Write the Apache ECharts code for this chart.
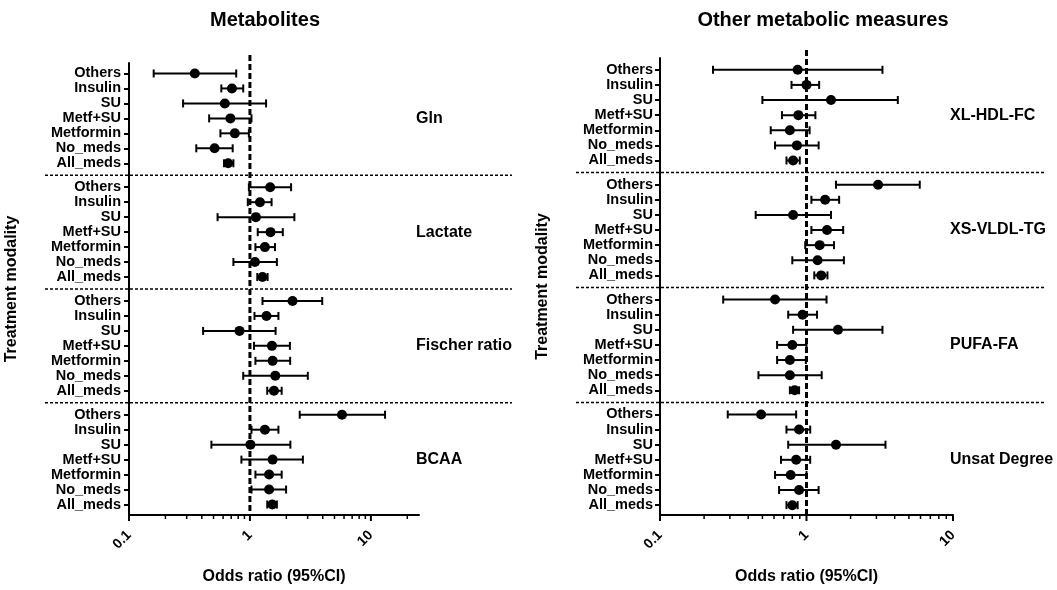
<!DOCTYPE html>
<html>
<head>
<meta charset="utf-8">
<script src="https://cdn.jsdelivr.net/npm/echarts@6/dist/echarts.min.js"></script>
<style>html,body{margin:0;padding:0;background:#fff;}#chart{width:1057px;height:590px;}</style>
</head>
<body>
<div id="chart"></div>
<script>
// ---------- data ----------
const rowLabels = ['Others', 'Insulin', 'SU', 'Metf+SU', 'Metformin', 'No_meds', 'All_meds'];
const leftGroups = ['Gln', 'Lactate', 'Fischer ratio', 'BCAA'];
const rightGroups = ['XL-HDL-FC', 'XS-VLDL-TG', 'PUFA-FA', 'Unsat Degree'];
const panelTitles = ['Metabolites', 'Other metabolic measures'];
const xTickValues = [0.1, 1, 10];
const xTickLabels = ['0.1', '1', '10'];
const minorTickValues = [0.2, 0.3, 0.4, 0.5, 0.6, 0.7, 0.8, 0.9, 2, 3, 4, 5, 6, 7, 8, 9, 20];

const glnOR = [0.35, 0.71, 0.62, 0.69, 0.75, 0.51, 0.66];
const glnLo = [0.16, 0.58, 0.28, 0.46, 0.57, 0.36, 0.61];
const glnHi = [0.77, 0.88, 1.36, 1.03, 0.98, 0.72, 0.73];

const lactateOR = [1.47, 1.21, 1.12, 1.48, 1.33, 1.10, 1.27];
const lactateLo = [0.98, 0.96, 0.54, 1.16, 1.11, 0.73, 1.15];
const lactateHi = [2.19, 1.51, 2.33, 1.87, 1.61, 1.67, 1.40];

const fischerOR = [2.25, 1.37, 0.82, 1.52, 1.54, 1.62, 1.58];
const fischerLo = [1.27, 1.09, 0.41, 1.08, 1.11, 0.88, 1.39];
const fischerHi = [3.96, 1.72, 1.63, 2.14, 2.15, 3.01, 1.83];

const bcaaOR = [5.77, 1.33, 1.01, 1.54, 1.44, 1.44, 1.53];
const bcaaLo = [2.58, 1.03, 0.48, 0.85, 1.11, 1.03, 1.39];
const bcaaHi = [13.1, 1.72, 2.16, 2.74, 1.83, 1.99, 1.67];

const xlhdlOR = [0.87, 1.00, 1.47, 0.88, 0.77, 0.86, 0.81];
const xlhdlLo = [0.23, 0.79, 0.50, 0.68, 0.57, 0.61, 0.73];
const xlhdlHi = [3.30, 1.22, 4.20, 1.15, 1.05, 1.21, 0.90];

const xsvldlOR = [3.08, 1.34, 0.81, 1.38, 1.23, 1.19, 1.26];
const xsvldlLo = [1.59, 1.08, 0.45, 1.08, 0.98, 0.80, 1.13];
const xsvldlHi = [5.93, 1.67, 1.47, 1.78, 1.54, 1.80, 1.39];

const pufaOR = [0.61, 0.94, 1.64, 0.80, 0.77, 0.77, 0.83];
const pufaLo = [0.27, 0.75, 0.81, 0.63, 0.63, 0.47, 0.77];
const pufaHi = [1.37, 1.18, 3.30, 1.00, 0.99, 1.27, 0.89];

const unsatOR = [0.49, 0.89, 1.59, 0.85, 0.78, 0.89, 0.80];
const unsatLo = [0.29, 0.73, 0.75, 0.67, 0.61, 0.65, 0.73];
const unsatHi = [0.85, 1.06, 3.46, 1.06, 1.00, 1.21, 0.87];

// ---------- layout helpers ----------
const FONT = '"Liberation Sans", Arial, sans-serif';
const GROUP_STEP = 7.6;               // 7 rows + gap between groups
const rowPos = (g, r) => g * GROUP_STEP + r;

const leftSets = [[glnOR, glnLo, glnHi], [lactateOR, lactateLo, lactateHi], [fischerOR, fischerLo, fischerHi], [bcaaOR, bcaaLo, bcaaHi]];
const rightSets = [[xlhdlOR, xlhdlLo, xlhdlHi], [xsvldlOR, xsvldlLo, xsvldlHi], [pufaOR, pufaLo, pufaHi], [unsatOR, unsatLo, unsatHi]];

const labelPositions = [];
const labelMap = {};
for (let g = 0; g < 4; g++) for (let r = 0; r < 7; r++) {
  const p = rowPos(g, r);
  labelPositions.push(p);
  labelMap[Math.round(p * 10)] = rowLabels[r];
}
// separators halfway between All_meds of group g and Others of group g+1
const sepPositions = [0, 1, 2].map(g => (rowPos(g, 6) + rowPos(g + 1, 0)) / 2);
const groupMid = [0, 1, 2, 3].map(g => rowPos(g, 3));

function buildData(sets) {
  const bars = [], pts = [];
  sets.forEach((s, g) => {
    for (let r = 0; r < 7; r++) {
      bars.push([s[0][r], rowPos(g, r), s[1][r], s[2][r]]);
      pts.push([s[0][r], rowPos(g, r)]);
    }
  });
  return { bars, pts };
}
const L = buildData(leftSets), R = buildData(rightSets);

const black = '#000';

function errRender(params, api) {
  const y = api.value(1), lo = api.value(2), hi = api.value(3);
  const a = api.coord([lo, y]), b = api.coord([hi, y]);
  const st = { stroke: black, lineWidth: 2 };
  return { type: 'group', children: [
    { type: 'line', shape: { x1: a[0], y1: a[1], x2: b[0], y2: b[1] }, style: st },
    { type: 'line', shape: { x1: a[0], y1: a[1] - 4, x2: a[0], y2: a[1] + 4 }, style: st },
    { type: 'line', shape: { x1: b[0], y1: b[1] - 4, x2: b[0], y2: b[1] + 4 }, style: st }
  ]};
}
function refRender(params, api) {
  const cs = params.coordSys;
  const p = api.coord([api.value(0), 0]);
  return { type: 'line', shape: { x1: p[0], y1: cs.y - 8, x2: p[0], y2: cs.y + cs.height },
    style: { stroke: black, lineWidth: 3, lineDash: [6, 3] } };
}
function sepRender(params, api) {
  const cs = params.coordSys;
  const p = api.coord([1, api.value(0)]);
  return { type: 'line', shape: { x1: cs.x - 84, y1: p[1], x2: cs.x + cs.width + 93, y2: p[1] },
    style: { stroke: black, lineWidth: 1.5, lineDash: [3, 2] } };
}
function makeGroupRender(names) {
  return function (params, api) {
    const cs = params.coordSys;
    const p = api.coord([1, api.value(0)]);
    return { type: 'text', x: cs.x + cs.width - 3, y: p[1],
      style: { text: names[params.dataIndex], fill: black, font: 'bold 16px ' + FONT, align: 'left', verticalAlign: 'middle' } };
  };
}
// x-axis ticks (major: value in dim 0, length in dim 1)
function tickRender(params, api) {
  const cs = params.coordSys;
  const p = api.coord([api.value(0), 0]);
  const yb = cs.y + cs.height;
  const len = api.value(1);
  return { type: 'line', shape: { x1: p[0], y1: yb, x2: p[0], y2: yb + len }, style: { stroke: black, lineWidth: len > 5 ? 2 : 1.5 } };
}

function xLabel(v) {
  const lv = Math.log10(v);
  for (let i = 0; i < xTickValues.length; i++) {
    if (Math.abs(lv - Math.log10(xTickValues[i])) < 0.01) return xTickLabels[i];
  }
  return '';
}

function xAxisCfg(gridIndex, max) {
  return {
    type: 'log', logBase: 10, gridIndex, min: 0.1, max,
    name: 'Odds ratio (95%CI)', nameLocation: 'middle', nameGap: 54,
    nameTextStyle: { color: black, fontSize: 16, fontWeight: 'bold', fontFamily: FONT },
    axisLine: { show: true, onZero: false, lineStyle: { color: black, width: 2 } },
    axisTick: { show: false },
    axisLabel: { rotate: 45, margin: 18, showMaxLabel: true, showMinLabel: true, color: black, fontSize: 14, fontWeight: 'bold', fontFamily: FONT,
      formatter: xLabel },
    splitLine: { show: false }
  };
}
function yAxisCfg(gridIndex, min, max, margin) {
  return {
    type: 'value', gridIndex, inverse: true, min, max,
    name: 'Treatment modality', nameLocation: 'middle', nameGap: 109, nameRotate: 90,
    nameTextStyle: { color: black, fontSize: 16, fontWeight: 'bold', fontFamily: FONT },
    axisLine: { show: true, lineStyle: { color: black, width: 2 } },
    axisTick: { show: true, length: 5, customValues: labelPositions, lineStyle: { color: black, width: 2 } },
    axisLabel: { show: true, margin, customValues: labelPositions, color: black, fontSize: 14.5, fontWeight: 'bold', fontFamily: FONT,
      formatter: v => labelMap[Math.round(v * 10)] || '' },
    splitLine: { show: false }
  };
}

const tickDataLeft = xTickValues.map(v => [v, 6]).concat(minorTickValues.map(v => [v, 4]));
const tickDataRight = xTickValues.map(v => [v, 6]).concat(minorTickValues.filter(v => v < 10).map(v => [v, 4]));

const option = {
  backgroundColor: '#fff',
  animation: false,
  textStyle: { fontFamily: FONT },
  graphic: [
    { type: 'text', x: 265, y: 20, style: { text: panelTitles[0], fill: black, font: 'bold 20px ' + FONT, align: 'center', verticalAlign: 'middle' } },
    { type: 'text', x: 823, y: 20, style: { text: panelTitles[1], fill: black, font: 'bold 20px ' + FONT, align: 'center', verticalAlign: 'middle' } }
  ],
  grid: [
    { left: 129, top: 63, width: 290, height: 461 },
    { left: 660, top: 58, width: 293, height: 465 }
  ],
  xAxis: [xAxisCfg(0, 25), xAxisCfg(1, 10)],
  yAxis: [yAxisCfg(0, -0.7, 29.5, 8), yAxisCfg(1, -0.78, 29.45, 7)],
  series: [
    { type: 'custom', xAxisIndex: 0, yAxisIndex: 0, renderItem: sepRender, data: sepPositions.map(v => [v]), encode: { y: 0 }, silent: true, z: 1 },
    { type: 'custom', xAxisIndex: 1, yAxisIndex: 1, renderItem: sepRender, data: sepPositions.map(v => [v]), encode: { y: 0 }, silent: true, z: 1 },
    { type: 'custom', xAxisIndex: 0, yAxisIndex: 0, renderItem: refRender, data: [[1]], encode: { x: 0 }, silent: true, z: 2 },
    { type: 'custom', xAxisIndex: 1, yAxisIndex: 1, renderItem: refRender, data: [[1]], encode: { x: 0 }, silent: true, z: 2 },
    { type: 'custom', xAxisIndex: 0, yAxisIndex: 0, renderItem: tickRender, data: tickDataLeft, encode: { x: 0 }, silent: true },
    { type: 'custom', xAxisIndex: 1, yAxisIndex: 1, renderItem: tickRender, data: tickDataRight, encode: { x: 0 }, silent: true },
    { type: 'custom', xAxisIndex: 0, yAxisIndex: 0, renderItem: makeGroupRender(leftGroups), data: groupMid.map(v => [v]), encode: { y: 0 }, silent: true },
    { type: 'custom', xAxisIndex: 1, yAxisIndex: 1, renderItem: makeGroupRender(rightGroups), data: groupMid.map(v => [v]), encode: { y: 0 }, silent: true },
    { type: 'custom', xAxisIndex: 0, yAxisIndex: 0, renderItem: errRender, data: L.bars, encode: { x: 0, y: 1 }, silent: true, z: 3 },
    { type: 'custom', xAxisIndex: 1, yAxisIndex: 1, renderItem: errRender, data: R.bars, encode: { x: 0, y: 1 }, silent: true, z: 3 },
    { type: 'scatter', xAxisIndex: 0, yAxisIndex: 0, data: L.pts, symbol: 'circle', symbolSize: 10, itemStyle: { color: black, opacity: 1 }, z: 4, silent: true },
    { type: 'scatter', xAxisIndex: 1, yAxisIndex: 1, data: R.pts, symbol: 'circle', symbolSize: 10, itemStyle: { color: black, opacity: 1 }, z: 4, silent: true }
  ]
};

const chart = echarts.init(document.getElementById('chart'), null, { renderer: 'canvas' });
chart.setOption(option);
</script>
</body>
</html>
